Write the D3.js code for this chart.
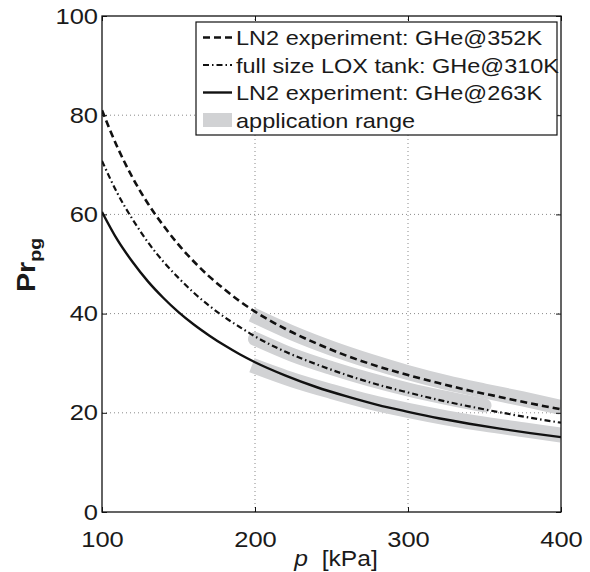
<!DOCTYPE html>
<html lang="en">
<head>
   <meta charset="utf-8">
   <title>Pr_pg versus pressure</title>
   <script src="https://cdn.jsdelivr.net/npm/d3@7"></script>
   <style type="text/css">
      body { margin: 0; background: #fff; }
      text { font-family: "Liberation Sans", Arial, Helvetica, sans-serif; fill: #1a1a1a; }
   </style>
</head>
<body>
   <script type="text/javascript">

      var w = 590;
      var h = 572;
      var margin = { top: 16, right: 29, bottom: 60, left: 102 };
      var stretch = 1.12;   // reference text is a bit wider than Liberation Sans

      // pressure in kPa
      var pressure = [100, 110, 120, 130, 140, 150, 160, 170, 180, 190, 200,
                      220, 240, 260, 280, 300, 320, 340, 360, 380, 400];
      var pr352 = [81.0, 73.6, 67.4, 62.2, 57.8, 53.9, 50.5, 47.5, 44.9, 42.5, 40.4,
                   36.9, 34.0, 31.5, 29.4, 27.6, 26.0, 24.5, 23.2, 21.9, 20.7];
      var pr310 = [70.8, 64.3, 59.0, 54.4, 50.5, 47.2, 44.2, 41.6, 39.3, 37.3, 35.4,
                   32.3, 29.8, 27.6, 25.7, 24.1, 22.6, 21.3, 20.1, 19.0, 18.0];
      var pr263 = [60.5, 54.9, 50.4, 46.5, 43.2, 40.3, 37.8, 35.6, 33.6, 31.8, 30.2,
                   27.5, 25.2, 23.3, 21.6, 20.2, 18.9, 17.8, 16.8, 15.9, 15.1];

      // application range bands
      var bandP352 = [198, 225, 250, 275, 300, 325, 350, 375, 400];
      var band352  = [39.8, 36.0, 33.0, 30.4, 28.1, 26.1, 24.4, 22.8, 21.1];
      var bandP310 = [200, 225, 250, 275, 300, 325, 350];
      var band310  = [34.9, 31.6, 29.0, 26.7, 24.7, 23.0, 21.5];
      var bandP263 = [198, 225, 250, 275, 300, 325, 350, 375, 400];
      var band263  = [29.6, 26.6, 24.3, 22.2, 20.5, 19.0, 17.7, 16.6, 15.5];

      var xTicks = [100, 200, 300, 400];
      var yTicks = [0, 20, 40, 60, 80, 100];

      var legendLabels = ["LN2 experiment: GHe@352K",
                          "full size LOX tank: GHe@310K",
                          "LN2 experiment: GHe@263K",
                          "application range"];

      var dashLong = "7,4";
      var dashDot = "6,3,1.5,3";
      var bandColor = "#d1d2d4";

      var xScale = d3.scaleLinear()
                     .domain([100, 400])
                     .range([margin.left, w - margin.right]);

      var yScale = d3.scaleLinear()
                     .domain([0, 100])
                     .range([h - margin.bottom, margin.top]);

      var svg = d3.select("body")
                  .append("svg")
                  .attr("width", w)
                  .attr("height", h);

      svg.append("clipPath")
         .attr("id", "plotclip")
         .append("rect")
         .attr("x", margin.left)
         .attr("y", margin.top)
         .attr("width", w - margin.left - margin.right)
         .attr("height", h - margin.top - margin.bottom);

      // dotted grid
      var grid = svg.append("g");
      grid.selectAll("line.gx")
          .data(xTicks.slice(1, -1))
          .enter()
          .append("line")
          .attr("x1", function(d) { return xScale(d); })
          .attr("x2", function(d) { return xScale(d); })
          .attr("y1", yScale(0))
          .attr("y2", yScale(100));
      grid.selectAll("line.gy")
          .data(yTicks.slice(1, -1))
          .enter()
          .append("line")
          .attr("x1", xScale(100))
          .attr("x2", xScale(400))
          .attr("y1", function(d) { return yScale(d); })
          .attr("y2", function(d) { return yScale(d); });
      grid.selectAll("line")
          .attr("stroke", "#8a8a8a")
          .attr("stroke-width", 1)
          .attr("stroke-dasharray", "1,3");

      var line = d3.line()
                   .x(function(d) { return xScale(d[0]); })
                   .y(function(d) { return yScale(d[1]); })
                   .curve(d3.curveMonotoneX);

      function zip(a, b) {
         return a.map(function(v, i) { return [v, b[i]]; });
      }

      var plot = svg.append("g").attr("clip-path", "url(#plotclip)");

      // grey bands first
      plot.append("path")
          .attr("d", line(zip(bandP352, band352)))
          .attr("fill", "none")
          .attr("stroke", bandColor)
          .attr("stroke-width", 15);
      plot.append("path")
          .attr("d", line(zip(bandP263, band263)))
          .attr("fill", "none")
          .attr("stroke", bandColor)
          .attr("stroke-width", 15);
      plot.append("path")
          .attr("d", line(zip(bandP310, band310)))
          .attr("fill", "none")
          .attr("stroke", bandColor)
          .attr("stroke-linecap", "round")
          .attr("stroke-width", 14);

      plot.append("path")
          .attr("d", line(zip(pressure, pr352)))
          .attr("fill", "none")
          .attr("stroke", "#111")
          .attr("stroke-width", 2.6)
          .attr("stroke-dasharray", dashLong);
      plot.append("path")
          .attr("d", line(zip(pressure, pr310)))
          .attr("fill", "none")
          .attr("stroke", "#111")
          .attr("stroke-width", 2.2)
          .attr("stroke-dasharray", dashDot);
      plot.append("path")
          .attr("d", line(zip(pressure, pr263)))
          .attr("fill", "none")
          .attr("stroke", "#111")
          .attr("stroke-width", 2.4);

      // axes, ticks pointing inwards
      var xAxis = d3.axisBottom(xScale).tickValues(xTicks).tickSize(-5).tickSizeOuter(0).tickPadding(19);
      var yAxis = d3.axisLeft(yScale).tickValues(yTicks).tickSize(-5).tickSizeOuter(0).tickPadding(4);
      var xTop = d3.axisTop(xScale).tickValues(xTicks).tickSize(-5).tickSizeOuter(0).tickFormat("");
      var yRight = d3.axisRight(yScale).tickValues(yTicks).tickSize(-5).tickSizeOuter(0).tickFormat("");

      var gx = svg.append("g")
                  .attr("transform", "translate(0," + yScale(0) + ")")
                  .call(xAxis);
      var gy = svg.append("g")
                  .attr("transform", "translate(" + xScale(100) + ",0)")
                  .call(yAxis);
      svg.append("g")
         .attr("transform", "translate(0," + yScale(100) + ")")
         .call(xTop);
      svg.append("g")
         .attr("transform", "translate(" + xScale(400) + ",0)")
         .call(yRight);

      svg.selectAll(".domain").remove();
      svg.selectAll(".tick line").attr("stroke", "#111").attr("stroke-width", 1);

      gx.selectAll("text")
        .attr("font-size", 22)
        .attr("font-family", null)
        .attr("fill", "#1a1a1a")
        .attr("transform", "scale(1.16,1)");
      gy.selectAll("text")
        .attr("font-size", 22)
        .attr("font-family", null)
        .attr("fill", "#1a1a1a")
        .attr("x", -4 / 1.16)
        .attr("transform", "scale(1.16,1)");

      // frame
      svg.append("rect")
         .attr("x", xScale(100))
         .attr("y", yScale(100))
         .attr("width", xScale(400) - xScale(100))
         .attr("height", yScale(0) - yScale(100))
         .attr("fill", "none")
         .attr("stroke", "#111")
         .attr("stroke-width", 1.3);

      // legend
      var legend = svg.append("g").attr("transform", "translate(196,22)");
      legend.append("rect")
            .attr("width", 361)
            .attr("height", 113)
            .attr("fill", "#fff")
            .attr("stroke", "#111")
            .attr("stroke-width", 1.2);

      var rows = legend.selectAll("g.row")
                       .data(legendLabels)
                       .enter()
                       .append("g")
                       .attr("transform", function(d, i) { return "translate(0," + (15.5 + i * 27.5) + ")"; });

      rows.append("text")
          .attr("transform", "translate(40,0) scale(" + stretch + ",1)")
          .attr("dy", "0.36em")
          .attr("font-size", 21)
          .text(function(d) { return d; });

      var dashes = [dashLong, dashDot, null];
      rows.filter(function(d, i) { return i < 3; })
          .append("line")
          .attr("x1", 7)
          .attr("x2", 36)
          .attr("stroke", "#111")
          .attr("stroke-width", function(d, i) { return i == 1 ? 2.2 : 2.4; })
          .attr("stroke-dasharray", function(d, i) { return dashes[i]; });
      rows.filter(function(d, i) { return i == 3; })
          .append("rect")
          .attr("x", 7)
          .attr("y", -7)
          .attr("width", 29)
          .attr("height", 14)
          .attr("fill", bandColor);

      // axis titles
      var xt = svg.append("text")
                  .attr("transform", "translate(336,566) scale(" + stretch + ",1)")
                  .attr("text-anchor", "middle")
                  .attr("font-size", 22);
      xt.append("tspan").attr("font-style", "italic").text("p");
      xt.append("tspan").attr("xml:space", "preserve").text("  [kPa]");

      var yt = svg.append("text")
                  .attr("transform", "translate(35,265) rotate(-90) scale(1.15,1)")
                  .attr("text-anchor", "middle")
                  .attr("font-weight", "bold")
                  .attr("font-size", 25);
      yt.append("tspan").text("Pr");
      yt.append("tspan").attr("font-size", 17).attr("dy", 6).text("pg");

   </script>
</body>
</html>
